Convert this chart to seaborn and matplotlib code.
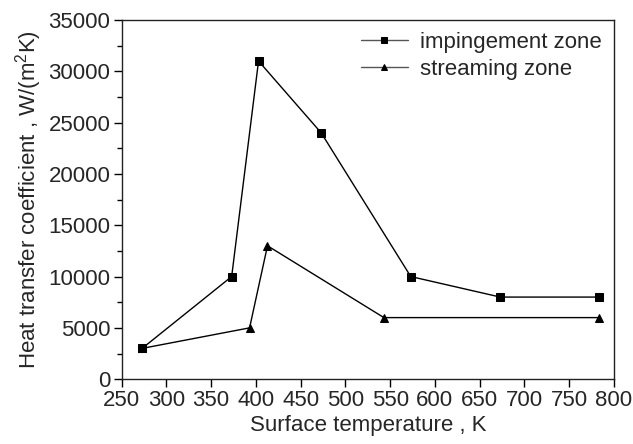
import matplotlib
matplotlib.use("Agg")
import matplotlib.pyplot as plt
from matplotlib.ticker import MultipleLocator
import pandas as pd
import seaborn as sns

# Measured heat transfer coefficients vs. surface temperature
imp_temp = [273, 373, 403, 473, 573, 673, 783]
imp_htc = [3000, 10000, 31000, 24000, 10000, 8000, 8000]
str_temp = [273, 393, 413, 543, 783]
str_htc = [3000, 5000, 13000, 6000, 6000]
series_names = ["impingement zone", "streaming zone"]

df = pd.concat([
    pd.DataFrame({"T": imp_temp, "h": imp_htc, "zone": series_names[0]}),
    pd.DataFrame({"T": str_temp, "h": str_htc, "zone": series_names[1]}),
])

sns.set_style("ticks")
plt.rcParams["font.family"] = ["Liberation Sans", "DejaVu Sans"]
plt.rcParams["mathtext.fontset"] = "custom"
plt.rcParams["mathtext.rm"] = "Liberation Sans"
plt.rcParams["mathtext.it"] = "Liberation Sans"

FS = 16

fig = plt.figure(figsize=(6.33, 4.44), dpi=100)
ax = fig.add_axes([0.192, 0.146, 0.778, 0.809])

sns.lineplot(data=df, x="T", y="h", hue="zone", style="zone",
             markers={series_names[0]: "s", series_names[1]: "^"},
             dashes=False, palette=["black", "black"], linewidth=1.0,
             markersize=5.5, markeredgecolor="black", sort=False,
             estimator=None, ax=ax)

ax.set_xlim(250, 800)
ax.set_ylim(0, 35000)
ax.xaxis.set_major_locator(MultipleLocator(50))
ax.yaxis.set_major_locator(MultipleLocator(5000))
ax.yaxis.set_minor_locator(MultipleLocator(2500))
ax.tick_params(axis="both", which="major", direction="out", length=6,
               width=1.0, labelsize=FS, color="black", pad=2)
ax.tick_params(axis="y", which="minor", direction="out", length=3.5,
               width=1.0, color="black")
for s in ax.spines.values():
    s.set_linewidth(1.0)
    s.set_color("#222222")

ax.set_xlabel("Surface temperature , K", fontsize=FS, labelpad=3)
ax.set_ylabel("Heat transfer coefficient , W/(m$^2$K)", fontsize=FS,
              labelpad=3)

handles, labels = ax.get_legend_handles_labels()
leg = ax.legend(handles, labels, loc="upper right", frameon=False,
                fontsize=FS, handlelength=2.1, handletextpad=0.55,
                labelspacing=0.25, borderaxespad=0.15,
                bbox_to_anchor=(1.0, 1.0))
for line in leg.get_lines():
    line.set_color("#555555")
    line.set_markersize(4.5)
    line.set_markerfacecolor("black")
    line.set_markeredgecolor("black")

fig.savefig("out.png", dpi=100, facecolor="white")
